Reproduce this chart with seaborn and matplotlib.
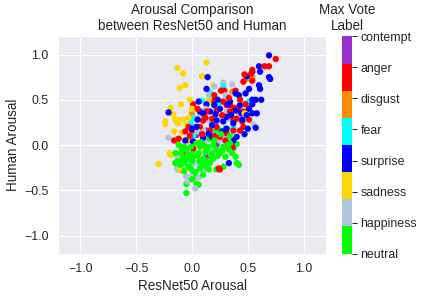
import matplotlib
matplotlib.use("Agg")
import matplotlib.pyplot as plt
from matplotlib.colors import ListedColormap, Normalize
from matplotlib.cm import ScalarMappable
import numpy as np
import pandas as pd
import seaborn as sns

# label order on the colorbar (bottom -> top)
labels = ["neutral", "happiness", "sadness", "surprise", "fear", "disgust", "anger", "contempt"]
label_colors = ["#00ff00", "#b0c4de", "#ffd700", "#0000ff", "#00ffff", "#ff8c00", "#ff0000", "#9932cc"]

# (ResNet50 arousal, human arousal) per max-vote label
neutral_x = [-0.05, -0.05, 0.04, 0.06, 0.03, -0.15, -0.13, -0.10, -0.07, -0.04, 0.01, 0.06, 0.10, 0.16,
             0.22, 0.28, 0.40, 0.42, 0.30, 0.36, 0.39, 0.37, 0.40, 0.28, 0.22, 0.13, 0.07, 0.01, -0.04,
             -0.10, -0.15, -0.12, -0.07, 0.25, 0.22, 0.30, 0.16, -0.03, -0.10, 0.07, 0.13, 0.19, -0.01,
             0.04, 0.10, 0.19, 0.25, -0.07, 0.01, -0.13, 0.34, 0.13, 0.00, -0.09, 0.18, 0.33, 0.07, 0.15,
             0.00, 0.05, 0.12, 0.17, -0.02, 0.03, 0.09, -0.08, 0.23, 0.27, 0.32, 0.14, -0.05, 0.08,
             0.20, 0.26, 0.34, -0.11, 0.00, 0.10]
neutral_y = [-0.53, -0.43, -0.43, -0.44, -0.35, -0.20, -0.26, -0.16, -0.20, -0.16, -0.13, -0.09, -0.15, -0.20,
             -0.27, -0.24, -0.20, -0.22, -0.13, -0.09, -0.13, 0.00, 0.01, -0.02, -0.05, -0.05, -0.02, -0.05,
             -0.11, -0.09, -0.09, 0.00, -0.02, 0.16, 0.17, 0.18, 0.07, -0.24, -0.22, -0.18, -0.24, -0.15,
             -0.02, 0.02, 0.00, 0.00, -0.09, -0.29, -0.29, -0.18, 0.02, -0.18, -0.18, -0.04, -0.09, -0.05,
             -0.26, -0.27,
             -0.10, -0.12, -0.08, -0.12, -0.25, -0.30, -0.22, -0.14, -0.12, -0.06, 0.00, -0.02, -0.05, 0.03,
             0.05, 0.12, 0.10, -0.20, -0.38, -0.33]

happiness_x = [0.28, 0.36, 0.45, 0.55, -0.21, 0.16, 0.25, 0.33, 0.10, 0.22, 0.25, 0.31, 0.07, 0.03,
               -0.05, -0.01, 0.10, -0.01, -0.13, 0.22, 0.18, 0.04, -0.09, 0.13, 0.07, 0.31, -0.13, -0.01,
               0.20, 0.15, 0.30, 0.12, 0.05, 0.18, 0.00, 0.06, -0.04, 0.28, 0.40]
happiness_y = [0.69, 0.67, 0.45, 0.23, 0.08, 0.27, 0.29, 0.29, 0.16, 0.16, 0.05, 0.02, -0.24, -0.48,
               -0.35, -0.35, -0.29, -0.27, -0.27, 0.09, -0.05, -0.20, -0.24, 0.05, 0.31, 0.37, -0.13, -0.07,
               0.65, 0.55, 0.55, 0.40, 0.15, 0.20, -0.22, -0.36, -0.40, 0.10, 0.30]

sadness_x = [-0.13, 0.13, -0.08, 0.09, -0.11, -0.06, 0.19, -0.10, -0.19, -0.17, -0.24, -0.24, -0.13,
             -0.13, -0.08, -0.16, -0.09, -0.05, -0.13, -0.20, -0.19, -0.30, -0.10, 0.15, 0.47, -0.03,
             -0.02, -0.15, 0.00, -0.05]
sadness_y = [0.85, 0.91, 0.79, 0.76, 0.63, 0.66, 0.66, 0.45, 0.41, 0.34, 0.26, 0.23, 0.28,
             0.24, 0.28, 0.15, 0.14, 0.06, 0.05, -0.09, -0.11, -0.21, -0.28, 0.50, 0.35, 0.30,
             0.50, 0.28, 0.40, 0.22]

surprise_x = [0.69, 0.60, 0.54, 0.61, 0.49, 0.69, 0.70, 0.14, 0.13, 0.51, 0.60, 0.61, 0.54, 0.57, 0.62,
              0.39, 0.42, 0.48, 0.54, 0.58, 0.54, 0.39, 0.44, 0.50, 0.57, 0.47, 0.40, 0.33, -0.21, 0.07,
              0.13, 0.16, 0.21, 0.28, 0.31, 0.10, 0.01, 0.18, 0.37, 0.00, 0.34, 0.43, 0.22, 0.18, 0.31,
              0.37, 0.25, 0.10, 0.04, -0.06, 0.49, 0.51,
              0.23, 0.32, 0.05, 0.27, 0.45, 0.15, 0.35, 0.06, 0.20]
surprise_y = [0.99, 0.87, 0.81, 0.81, 0.76, 0.75, 0.73, 0.75, 0.62, 0.62, 0.66, 0.62, 0.50, 0.50, 0.50,
              0.57, 0.55, 0.57, 0.45, 0.35, 0.35, 0.38, 0.35, 0.18, 0.19, 0.12, 0.09, -0.20, 0.36, 0.37,
              0.45, 0.37, 0.34, 0.26, 0.31, 0.08, 0.04, 0.09, 0.05, 0.18, 0.48, 0.44, 0.27, 0.22, 0.18,
              0.24, 0.40, 0.35, 0.20, 0.05, 0.33, 0.40,
              0.50, 0.45, 0.28, 0.15, 0.28, 0.12, 0.33, 0.48, 0.44]

fear_x = [0.28, 0.16, 0.09, 0.01, 0.04, 0.37, 0.51, 0.24, 0.01, 0.19, -0.01]
fear_y = [0.65, 0.58, 0.49, 0.30, 0.29, 0.19, 0.48, 0.45, 0.11, 0.16, 0.24]

disgust_x = [0.54, 0.49, 0.00, -0.03, 0.36]
disgust_y = [0.75, 0.73, 0.35, 0.05, 0.59]

anger_x = [0.75, 0.69, 0.65, 0.54, 0.53, 0.47, 0.54, 0.46, 0.26, 0.29, 0.39, 0.01, 0.19, 0.28, 0.31,
           0.34, 0.38, 0.42, 0.46, 0.51, 0.43, 0.46, 0.37, 0.22, 0.10, 0.00, 0.04, 0.07, -0.12, -0.16,
           0.01, 0.24, 0.25, 0.37, 0.22, -0.03, 0.13, 0.18, 0.34, 0.40, 0.45, 0.31, 0.25, 0.16, -0.06, 0.36,
           0.20, 0.33, 0.05, 0.12, 0.27, 0.43, 0.09, -0.02, 0.30, 0.20, 0.48]
anger_y = [0.95, 0.87, 0.87, 0.83, 0.79, 0.78, 0.71, 0.70, 0.60, 0.60, 0.60, 0.45, 0.49, 0.48, 0.44,
           0.44, 0.41, 0.38, 0.37, 0.28, 0.16, 0.20, 0.16, 0.38, 0.27, 0.16, 0.19, 0.20, 0.07, 0.05,
           -0.04, -0.26, -0.27, 0.28, 0.20, 0.20, 0.37, 0.29, 0.37, 0.29, 0.26, 0.13, 0.09, 0.16, 0.15, -0.02,
           0.55, 0.52, 0.40, 0.30, 0.33, 0.50, 0.12, 0.10, 0.05, 0.10, 0.45]

contempt_x = [-0.07, 0.13, 0.04, 0.22, 0.37, 0.13]
contempt_y = [-0.11, -0.13, 0.11, 0.00, -0.03, 0.16]

groups = [(neutral_x, neutral_y), (happiness_x, happiness_y), (sadness_x, sadness_y),
          (surprise_x, surprise_y), (fear_x, fear_y), (disgust_x, disgust_y),
          (anger_x, anger_y), (contempt_x, contempt_y)]

frames = []
for code, (gx, gy) in enumerate(groups):
    frames.append(pd.DataFrame({"resnet": gx, "human": gy, "label": labels[code],
                                "code": code, "rank": np.arange(len(gx))}))
df = pd.concat(frames, ignore_index=True)
# interleave the labels so no single class is drawn fully on top
df = df.sort_values(["rank", "code"], kind="stable").reset_index(drop=True)

sns.set_theme(style="darkgrid")
plt.rcParams["font.family"] = ["Liberation Sans", "DejaVu Sans"]
plt.rcParams["xtick.labelsize"] = 12.4
plt.rcParams["ytick.labelsize"] = 12.4
plt.rcParams["axes.labelsize"] = 13.5
plt.rcParams["axes.titlesize"] = 13.5

W, H = 424, 298
fig = plt.figure(figsize=(W / 72, H / 72), dpi=72)
ax = fig.add_axes([58 / W, 1 - 253.6 / H, 268 / W, 217.2 / H])

sns.scatterplot(data=df, x="resnet", y="human", hue="label", hue_order=labels,
                palette=dict(zip(labels, label_colors)), s=40, linewidth=0,
                legend=False, ax=ax)
ax.set_xlim(-1.2, 1.2)
ax.set_ylim(-1.2, 1.2)
ax.set_xticks([-1.0, -0.5, 0.0, 0.5, 1.0])
ax.set_yticks([-1.0, -0.5, 0.0, 0.5, 1.0])
ax.set_xlabel("ResNet50 Arousal")
ax.set_ylabel("Human Arousal")
ax.set_title("Arousal Comparison\nbetween ResNet50 and Human")

cax = fig.add_axes([342 / W, 1 - 253.6 / H, 10 / W, 217.2 / H])
sm = ScalarMappable(norm=Normalize(0, len(labels) - 1), cmap=ListedColormap(label_colors))
cbar = fig.colorbar(sm, cax=cax)
cbar.set_ticks(range(len(labels)))
cbar.set_ticklabels(labels)
cbar.outline.set_visible(False)
cax.tick_params(length=5, width=1, color=".15")
cax.set_title("Max Vote\nLabel", fontsize=13.5)

fig.savefig("out.png", dpi=72)
